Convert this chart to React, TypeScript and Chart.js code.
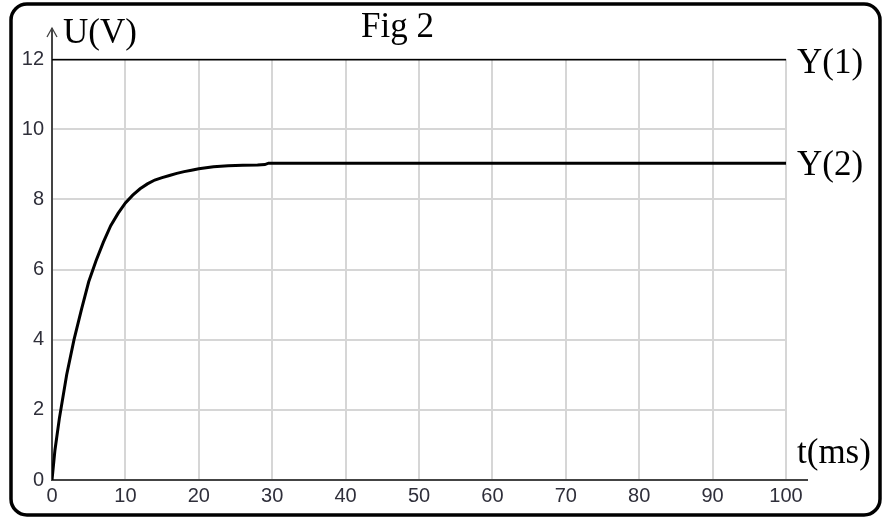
import React, { useEffect, useRef } from "react";
import { Chart, registerables } from "chart.js";

Chart.register(...registerables);

const xTicks = [0, 10, 20, 30, 40, 50, 60, 70, 80, 90, 100];
const yTicks = [0, 2, 4, 6, 8, 10, 12];

const y1Time = [0, 100];
const y1Volt = [12, 12];

const y2Time = [0, 0.4, 1, 2, 3, 4, 5, 6, 7, 8, 9, 10, 11, 12, 13, 14, 15, 16, 17, 18, 19, 20, 21, 22, 24, 26, 28, 29, 29.5, 100];
const y2Volt = [0, 0.85, 1.75, 3.0, 4.0, 4.85, 5.65, 6.25, 6.78, 7.25, 7.6, 7.9, 8.12, 8.3, 8.44, 8.55, 8.62, 8.68, 8.74, 8.79, 8.83, 8.87, 8.9, 8.93, 8.96, 8.97, 8.98, 8.99, 9.03, 9.03];

const seriesNames = ["Y(1)", "Y(2)"];
const title = "Fig 2";
const yAxisTitle = "U(V)";
const xAxisTitle = "t(ms)";

const SERIF = "'Liberation Serif', 'Times New Roman', serif";
const TICKFONT = "'Liberation Sans', Arial, sans-serif";

const decorPlugin = {
  id: "decor",
  beforeDatasetsDraw(chart: any) {
    const { ctx, chartArea, scales } = chart;
    const x0 = scales.x.getPixelForValue(0);
    const yb = scales.y.getPixelForValue(0);
    ctx.save();
    ctx.strokeStyle = "#444";
    ctx.lineWidth = 2;
    ctx.beginPath();
    ctx.moveTo(x0, yb);
    ctx.lineTo(chartArea.right + 22, yb);
    ctx.stroke();
    ctx.beginPath();
    ctx.moveTo(x0, yb + 1);
    ctx.lineTo(x0, chartArea.top - 31);
    ctx.stroke();
    ctx.lineWidth = 1.3;
    ctx.beginPath();
    ctx.moveTo(x0 - 5, chartArea.top - 22);
    ctx.lineTo(x0, chartArea.top - 31);
    ctx.lineTo(x0 + 5, chartArea.top - 22);
    ctx.stroke();
    ctx.restore();
  },
  afterDraw(chart: any) {
    const { ctx, chartArea, scales } = chart;
    ctx.save();
    ctx.fillStyle = "#000";
    ctx.font = `35px ${SERIF}`;
    ctx.textBaseline = "alphabetic";
    ctx.textAlign = "left";
    ctx.fillText(title, 361, 37);
    ctx.fillText(yAxisTitle, chartArea.left + 11, 43);
    const lx = chartArea.right + 11;
    ctx.fillText(seriesNames[0], lx, scales.y.getPixelForValue(y1Volt[y1Volt.length - 1]) + 14);
    ctx.fillText(seriesNames[1], lx, scales.y.getPixelForValue(y2Volt[y2Volt.length - 1]) + 12);
    ctx.fillText(xAxisTitle, lx, chartArea.bottom - 17);
    ctx.strokeStyle = "#000";
    ctx.lineWidth = 3.5;
    ctx.beginPath();
    (ctx as any).roundRect(11, 4, 869, 511, 16);
    ctx.stroke();
    ctx.restore();
  },
};

export default function App() {
  const ref = useRef<HTMLCanvasElement | null>(null);
  useEffect(() => {
    document.body.style.margin = "0";
    const canvas = ref.current;
    if (!canvas) return;
    const chart = new Chart(canvas, {
      type: "line",
      data: {
        datasets: [
          {
            label: seriesNames[0],
            data: y1Time.map((t, i) => ({ x: t, y: y1Volt[i] })),
            borderColor: "#000",
            borderWidth: 3,
            pointRadius: 0,
            tension: 0,
          },
          {
            label: seriesNames[1],
            data: y2Time.map((t, i) => ({ x: t, y: y2Volt[i] })),
            borderColor: "#000",
            borderWidth: 3,
            pointRadius: 0,
            tension: 0,
          },
        ],
      },
      options: {
        responsive: false,
        animation: false,
        devicePixelRatio: 1,
        layout: { padding: { left: 0, top: 59, right: 102, bottom: 0 } },
        plugins: { legend: { display: false }, tooltip: { enabled: false }, title: { display: false } },
        scales: {
          x: {
            type: "linear",
            min: xTicks[0],
            max: xTicks[xTicks.length - 1],
            afterBuildTicks: (s: any) => { s.ticks = xTicks.map((v) => ({ value: v })); },
            afterFit: (s: any) => { s.height = 39; },
            grid: { color: "#d6d6d6", lineWidth: 2, drawTicks: false },
            border: { display: false },
            ticks: { padding: 4, color: "#2f2f3a", font: { family: TICKFONT, size: 20 } },
          },
          y: {
            type: "linear",
            min: yTicks[0],
            max: yTicks[yTicks.length - 1],
            afterBuildTicks: (s: any) => { s.ticks = yTicks.map((v) => ({ value: v })); },
            afterFit: (s: any) => { s.width = 52; },
            grid: { color: "#d6d6d6", lineWidth: 2, drawTicks: false },
            border: { display: false },
            ticks: { padding: 8, color: "#2f2f3a", font: { family: TICKFONT, size: 20 } },
          },
        },
      },
      plugins: [decorPlugin],
    } as any);
    return () => chart.destroy();
  }, []);
  return (
    <div style={{ width: 888, height: 519, background: "#fff" }}>
      <canvas ref={ref} width={888} height={519} />
    </div>
  );
}
